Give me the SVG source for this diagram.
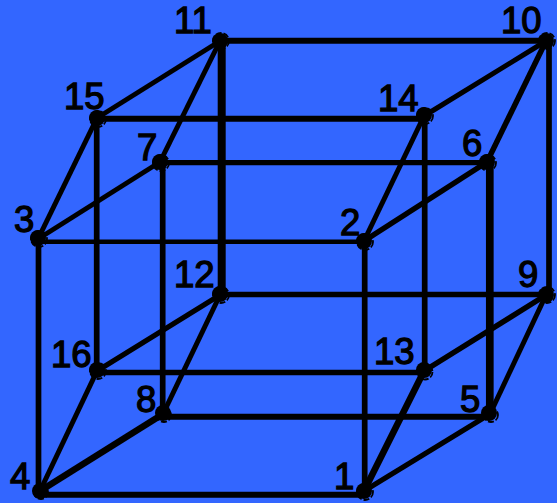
<svg xmlns="http://www.w3.org/2000/svg" width="557" height="503" viewBox="0 0 557 503">
<style>
.e{stroke:#000;fill:none;stroke-linecap:butt}
.d{fill:#000}
.o{fill:none;stroke:#000;stroke-width:1.800;stroke-dasharray:6 2}
text{font-family:"Liberation Sans",Arial,sans-serif;font-size:36.500px;font-weight:400;fill:#000;stroke:#000;stroke-width:1.300}
</style>
<rect width="557" height="503" fill="#3366ff"/>
<g id="connectors">
<path class="e" stroke-width="6" d="M220 40.700H546"/>
<path class="e" stroke-width="8" d="M221.700 41V295"/>
<path class="e" stroke-width="6" d="M97 118.700H424"/>
<path class="e" stroke-width="5.300" d="M160 162.700H487"/>
<path class="e" stroke-width="4.600" d="M38 241.700H364"/>
<path class="e" stroke-width="5.700" d="M220 294.500H546"/>
<path class="e" stroke-width="5.700" d="M97 372.500H424"/>
<path class="e" stroke-width="6" d="M163 416.700H490"/>
<path class="e" stroke-width="6" d="M40 494.700H364"/>
<path class="e" stroke-width="5.700" d="M96.700 118V371"/>
<path class="e" stroke-width="5.700" d="M162.700 162V414"/>
<path class="e" stroke-width="5.700" d="M38.500 239V491"/>
<path class="e" stroke-width="5.700" d="M364.700 241V491"/>
<path class="e" stroke-width="5.700" d="M424.700 116V371"/>
<path class="e" stroke-width="7.700" d="M489.800 162V414"/>
<path class="e" stroke-width="5.700" d="M549 41V295"/>
<path class="e" stroke-width="5" d="M97 118L220 41"/>
<path class="e" stroke-width="5" d="M38 239L160 162"/>
<path class="e" stroke-width="5" d="M38 239L97 118"/>
<path class="e" stroke-width="5" d="M160 162L220 41"/>
<path class="e" stroke-width="5" d="M424 116L546 41"/>
<path class="e" stroke-width="5.500" d="M364 241L487 162"/>
<path class="e" stroke-width="5" d="M364 241L424 116"/>
<path class="e" stroke-width="5.500" d="M487 162L546 41"/>
<path class="e" stroke-width="5" d="M97 371L220 295"/>
<path class="e" stroke-width="6.500" d="M40 491L163 414"/>
<path class="e" stroke-width="5" d="M40 491L97 371"/>
<path class="e" stroke-width="5" d="M163 414L220 295"/>
<path class="e" stroke-width="5.500" d="M424 371L546 295"/>
<path class="e" stroke-width="5" d="M364 491L490 414"/>
<path class="e" stroke-width="6.500" d="M364 491L424 371"/>
<path class="e" stroke-width="5" d="M490 414L546 295"/>
</g>
<g id="n1"><circle class="d" cx="364" cy="491" r="8"/><circle class="o" cx="365" cy="492" r="8"/><text x="334" y="489">1</text></g>
<g id="n2"><circle class="d" cx="364" cy="241" r="8"/><circle class="o" cx="365" cy="242" r="8"/><text x="340" y="235">2</text></g>
<g id="n3"><circle class="d" cx="38" cy="238" r="8"/><circle class="o" cx="39" cy="239" r="8"/><text x="14" y="232">3</text></g>
<g id="n4"><circle class="d" cx="40" cy="491" r="8"/><circle class="o" cx="41" cy="492" r="7"/><text x="10" y="489">4</text></g>
<g id="n5"><circle class="d" cx="489" cy="413" r="8"/><circle class="o" cx="491" cy="415" r="7"/><text x="460" y="412">5</text></g>
<g id="n6"><circle class="d" cx="487" cy="162" r="8"/><circle class="o" cx="488" cy="163" r="8"/><text x="462" y="156">6</text></g>
<g id="n7"><circle class="d" cx="160" cy="162" r="8"/><circle class="o" cx="161" cy="163" r="8"/><text x="137" y="160">7</text></g>
<g id="n8"><circle class="d" cx="163" cy="413" r="8"/><circle class="o" cx="164" cy="415" r="7"/><text x="136" y="412">8</text></g>
<g id="n9"><circle class="d" cx="546" cy="295" r="8"/><circle class="o" cx="547" cy="295" r="8"/><text x="518" y="287">9</text></g>
<g id="n10"><circle class="d" cx="546" cy="41" r="8"/><circle class="o" cx="547" cy="41" r="8"/><text x="501" y="33">10</text></g>
<g id="n11"><circle class="d" cx="220" cy="41" r="8"/><circle class="o" cx="221" cy="41" r="8"/><text x="174" y="33">11</text></g>
<g id="n12"><circle class="d" cx="220" cy="294" r="8"/><circle class="o" cx="221" cy="295" r="8"/><text x="174" y="287">12</text></g>
<g id="n13"><circle class="d" cx="424" cy="370" r="8"/><circle class="o" cx="425" cy="372" r="7.500"/><text x="374" y="364">13</text></g>
<g id="n14"><circle class="d" cx="424" cy="115" r="8"/><circle class="o" cx="425" cy="116" r="8"/><text x="378" y="111">14</text></g>
<g id="n15"><circle class="d" cx="97" cy="118" r="8"/><circle class="o" cx="98" cy="119" r="8"/><text x="64" y="109">15</text></g>
<g id="n16"><circle class="d" cx="97" cy="370" r="8"/><circle class="o" cx="98" cy="371" r="8"/><text x="51" y="367">16</text></g>
</svg>
